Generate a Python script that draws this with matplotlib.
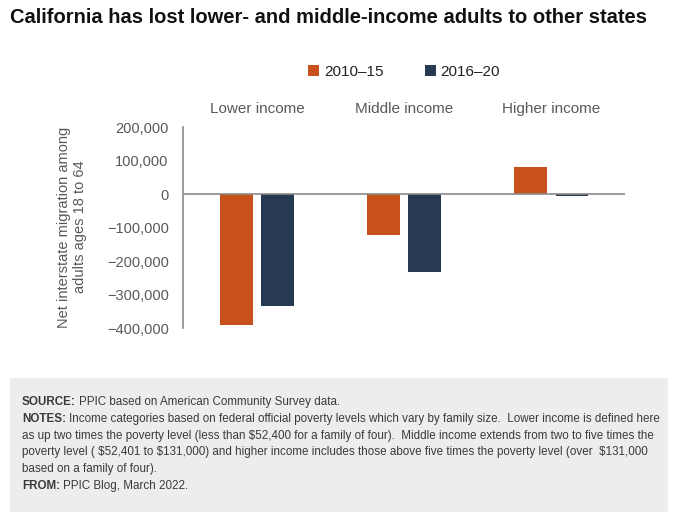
import numpy as np
import matplotlib
matplotlib.use("Agg")
import matplotlib.pyplot as plt
from matplotlib.patches import Rectangle
from matplotlib.transforms import blended_transform_factory

plt.rcParams['font.family'] = ['Liberation Sans', 'DejaVu Sans']

# datos
categorias = ['Lower income', 'Middle income', 'Higher income']
periodos = ['2010\u201315', '2016\u201320']
v_2010_15 = [-391000, -121000, 81500]
v_2016_20 = [-334000, -231000, -6000]
yticks = [200000, 100000, 0, -100000, -200000, -300000, -400000]

naranja = '#C8501B'
azul = '#263A52'
gris = '#595959'

W, H = 680, 516
fig = plt.figure(figsize=(W / 100, H / 100), dpi=100)

ax = fig.add_axes([183.3 / W, 1 - 328.3 / H, (625 - 183.3) / W, (328.3 - 127.3) / H])

ind = np.arange(len(categorias))
ancho = 0.224
off = 0.14
b1 = ax.bar(ind - off, v_2010_15, ancho, color=naranja, zorder=2)
b2 = ax.bar(ind + off, v_2016_20, ancho, color=azul, zorder=2)

ax.set_xlim(-0.5, 2.5)
ax.set_ylim(-400000, 200000)
ax.axhline(0, color='#8a8a8a', lw=1.2, zorder=3)
for s in ['top', 'right', 'bottom']:
    ax.spines[s].set_visible(False)
ax.spines['left'].set_color('#8a8a8a')
ax.spines['left'].set_linewidth(1.2)
ax.set_xticks([])
ax.set_yticks(yticks)
ax.set_yticklabels(['{:,.0f}'.format(v).replace('-', '\u2212') for v in yticks])
ax.tick_params(axis='y', length=0, pad=10.5, labelsize=10.5, labelcolor=gris)

# nombres de las categorias arriba
tr = blended_transform_factory(ax.transData, ax.transAxes)
for i, c in enumerate(categorias):
    ax.text(i, 1.09, c, transform=tr, ha='center', va='center', fontsize=11, color=gris)

fig.legend((b1[0], b2[0]), periodos, loc='center', bbox_to_anchor=(0.594, 1 - 72 / H),
           ncol=2, frameon=False, fontsize=11, handlelength=0.75, handleheight=0.75,
           handletextpad=0.3, columnspacing=2.7, labelcolor='#222222')

fig.text(0.106, 1 - 227 / H, 'Net interstate migration among\nadults ages 18 to 64',
         rotation=90, ha='center', va='center', fontsize=10.5, color=gris,
         multialignment='center', linespacing=1.15)

fig.text(10 / W, 1 - 17 / H, 'California has lost lower- and middle-income adults to other states',
         ha='left', va='center', fontsize=14.5, fontweight='bold', color='#111111')

# caja de notas
fig.patches.append(Rectangle((10 / W, 1 - 512 / H), 658 / W, 134 / H, transform=fig.transFigure,
                             facecolor='#ECEEEE', edgecolor='none', zorder=0))

notas = [
    ('SOURCE:', 'PPIC based on American Community Survey data.'),
    ('NOTES:', 'Income categories based on federal official poverty levels which vary by family size.  Lower income is defined here'),
    ('', 'as up two times the poverty level (less than $52,400 for a family of four).  Middle income extends from two to five times the'),
    ('', 'poverty level ( $52,401 to $131,000) and higher income includes those above five times the poverty level (over  $131,000'),
    ('', 'based on a family of four).'),
    ('FROM:', 'PPIC Blog, March 2022.'),
]
renderer = fig.canvas.get_renderer()
y0 = 402
for k, (neg, resto) in enumerate(notas):
    y = 1 - (y0 + k * 16.8) / H
    x = 22 / W
    if neg:
        t = fig.text(x, y, neg, ha='left', va='center', fontsize=8.35, fontweight='bold', color='#3a3a3a')
        bb = t.get_window_extent(renderer)
        x = (bb.x1 + 3) / W
    fig.text(x, y, resto, ha='left', va='center', fontsize=8.35, color='#3a3a3a')

fig.savefig('out.png', dpi=100)
